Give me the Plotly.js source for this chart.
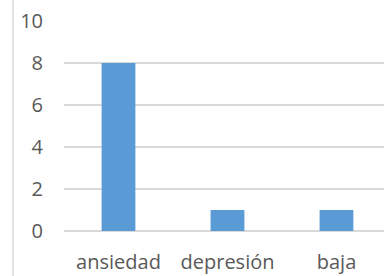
<!DOCTYPE html>
<html><head><meta charset="utf-8">
<script src="https://cdn.plot.ly/plotly-3.0.1.min.js"></script>
<style>html,body{margin:0;padding:0;background:#fff;}#chart{width:384px;height:276px;}</style>
</head><body><div id="chart"></div>
<script>
const categories = ["ansiedad", "depresión", "baja"];
const values = [8, 1, 1];
const yTicks = [0, 2, 4, 6, 8, 10];

const trace = {
  type: "bar",
  x: categories,
  y: values,
  width: 0.31,
  marker: {color: "#5B9BD5"},
  hoverinfo: "none"
};
const layout = {
  width: 384, height: 276,
  margin: {l: 64, r: 0, t: 21, b: 45},
  paper_bgcolor: "#fff", plot_bgcolor: "#fff",
  showlegend: false,
  font: {family: "Open Sans, sans-serif", size: 20, color: "#595959"},
  xaxis: {
    type: "category",
    range: [-0.5, 2.436],
    showgrid: false, showline: false, zeroline: false,
    ticks: "", ticklabelstandoff: 17,
    fixedrange: true
  },
  yaxis: {
    range: [0, 10],
    tickvals: yTicks,
    ticktext: yTicks.map(String),
    showgrid: true, gridcolor: "#d9d9d9", gridwidth: 1.5,
    zeroline: true, zerolinecolor: "#d9d9d9", zerolinewidth: 1.5,
    showline: false, ticks: "", ticklabelstandoff: 20,
    fixedrange: true
  },
  shapes: [{
    type: "line", xref: "paper", yref: "paper",
    x0: (13 - 64) / 320, x1: (13 - 64) / 320,
    y0: -45 / 210, y1: 1 + 21 / 210,
    line: {color: "#d9d9d9", width: 1.5}
  }]
};
Plotly.newPlot("chart", [trace], layout, {staticPlot: true, displayModeBar: false});
</script></body></html>
